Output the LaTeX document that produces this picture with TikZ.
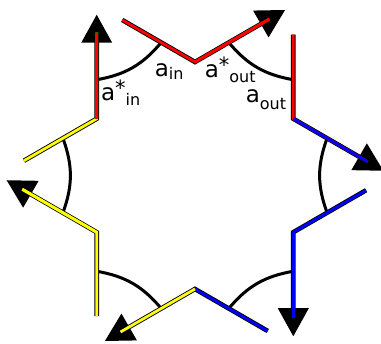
\documentclass[tikz,border=0pt]{standalone}
\usepackage{fontspec}
\setmainfont{DejaVu Sans}
\usetikzlibrary{calc}
\definecolor{cred}{RGB}{255,0,0}
\definecolor{cyel}{RGB}{255,255,0}
\definecolor{cblue}{RGB}{0,0,255}
\newcommand{\mysub}[2]{\raisebox{-#1pt}{\fontsize{16}{16}\selectfont #2}}
\newcommand{\mystar}{\raisebox{5pt}{\fontsize{21}{21}\selectfont *}}
\tikzset{
  outline/.style={line width=4.6pt, draw=black, line join=miter, line cap=butt},
  colline/.style={line width=2.8pt, line join=miter, line cap=butt},
  curveline/.style={line width=3pt, draw=black},
  tiptri/.style={fill=black, draw=none},
  lbl/.style={anchor=base west, inner sep=0pt, font=\fontsize{23}{23}\selectfont}
}
\begin{document}
\begin{tikzpicture}[x=1pt,y=1pt]
\useasboundingbox (0,0) rectangle (381,344);
\coordinate (C) at (195,168.5);
% vertices, arm ends, curve anchors, arrow tips
\foreach \a [evaluate=\a as \p using \a+60, evaluate=\a as \m using \a-60] in {30,90,150,210,270,330}{
  \coordinate (V\a) at ($(C)+(\a:113.5)$);
  \coordinate (Pl\a) at ($(V\a)+(\p:84)$);
  \coordinate (Ar\a) at ($(V\a)+(\m:86)$);
  \coordinate (P\a) at ($(V\a)+(\p:39)$);
  \coordinate (Q\a) at ($(V\a)+(\m:39)$);
  \coordinate (T\a) at ($(V\a)+(\m:104)$);
  \coordinate (B\a) at ($(V\a)+(\m:76)$);
  \coordinate (BL\a) at ($(B\a)+(\m+90:15.5)$);
  \coordinate (BR\a) at ($(B\a)+(\m-90:15.5)$);
}
% connecting curves
\foreach \a/\b in {90/150,150/210,210/270,270/330,330/30,30/90}{
  \draw[curveline] (P\a) to[bend left=20] (Q\b);
}
% arrow heads
\foreach \a in {30,90,150,210,270,330}{
  \fill[tiptri] (T\a) -- (BL\a) -- (BR\a) -- cycle;
}
% outlined coloured arms
\foreach \a/\pc/\ac in {90/cred/cred,150/cyel/cred,210/cyel/cyel,270/cblue/cyel,330/cblue/cblue,30/cred/cblue}{
  \draw[outline] (Pl\a) -- (V\a) -- (Ar\a);
  \draw[colline,draw=\pc] (Pl\a) -- (V\a) -- (Ar\a);
  \draw[colline,draw=\ac] (V\a) -- (Ar\a);
}
% labels
\node[lbl] (ain) at (154.6,267.5) {a\mysub{3.5}{in}};
\node[lbl] (ainstar) at (100.8,243) {a\mystar\mysub{4.5}{in}};
\node[lbl] (aoutstar) at (204.6,266.5) {a\mystar\mysub{5}{out}};
\node[lbl] (aout) at (245.6,241) {a\mysub{6.5}{out}};
\end{tikzpicture}
\end{document}
